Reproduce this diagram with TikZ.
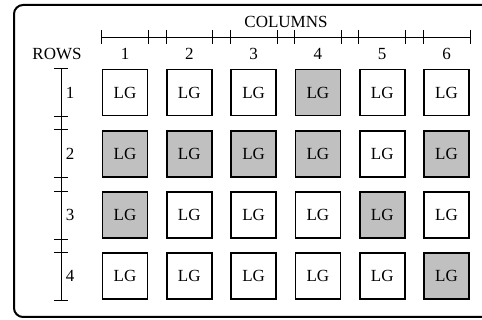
\documentclass[tikz,border=0pt]{standalone}
\usepackage{fontspec}
\setmainfont{Liberation Serif}
\begin{document}
\begin{tikzpicture}[x=1pt,y=-1pt,
  lgbox/.style={draw=black,line width=1.8pt,minimum width=45pt,minimum height=46pt,inner sep=0pt,fill=white,
    font=\fontsize{17}{20}\selectfont},
  onbox/.style={lgbox,fill=shade},
  lbl/.style={font=\fontsize{17}{20}\selectfont,inner sep=0pt},
  rule/.style={line width=0.8pt},
]
\definecolor{shade}{RGB}{192,192,192}
\useasboundingbox (0,0) rectangle (482,320);
% frame (right side cut off)
\draw[line width=2pt,rounded corners=9pt] (483,5) -- (14,5) -- (14,317) -- (483,317);
% titles
\node[lbl] (coltitle) at (286,22) {COLUMNS};
\node[lbl] (rowtitle) at (57,54) {ROWS};
% boxes
\foreach \r/\shaded in {1/{4},2/{1,2,3,4,6},3/{1,5},4/{6}}{
  \foreach \c in {1,...,6}{
    \def\sty{lgbox}
    \foreach \s in \shaded {\ifnum\s=\c\relax\global\def\sty{onbox}\fi}
    \node[\sty] (b\r\c) at ({125+64.3*(\c-1)},{92.5+61.3*(\r-1)}) {LG};
    \gdef\sty{lgbox}
  }
}
% column ruler
\coordinate (cl) at (b11.west|-0,37);
\coordinate (cr) at (b16.east|-0,37);
\draw[rule] (cl) -- (cr);
\foreach \c in {1,...,6}{
  \draw[rule] ([yshift=-7pt]b1\c.west|-cl) -- ([yshift=7pt]b1\c.west|-cl);
  \draw[rule] ([yshift=-7pt]b1\c.east|-cl) -- ([yshift=7pt]b1\c.east|-cl);
  \node[lbl] (cn\c) at (b1\c.center|-0,54) {\c};
}
% row ruler
\coordinate (rt) at (61,0|-b11.north);
\coordinate (rb) at (61,0|-b41.south);
\draw[rule] (rt) -- (rb);
\foreach \r in {1,...,4}{
  \draw[rule] ([xshift=-7pt]rt|-b\r1.north) -- ([xshift=7pt]rt|-b\r1.north);
  \draw[rule] ([xshift=-7pt]rt|-b\r1.south) -- ([xshift=7pt]rt|-b\r1.south);
  \node[lbl] (rn\r) at (70,0|-b\r1.center) {\r};
}
\end{tikzpicture}
\end{document}
